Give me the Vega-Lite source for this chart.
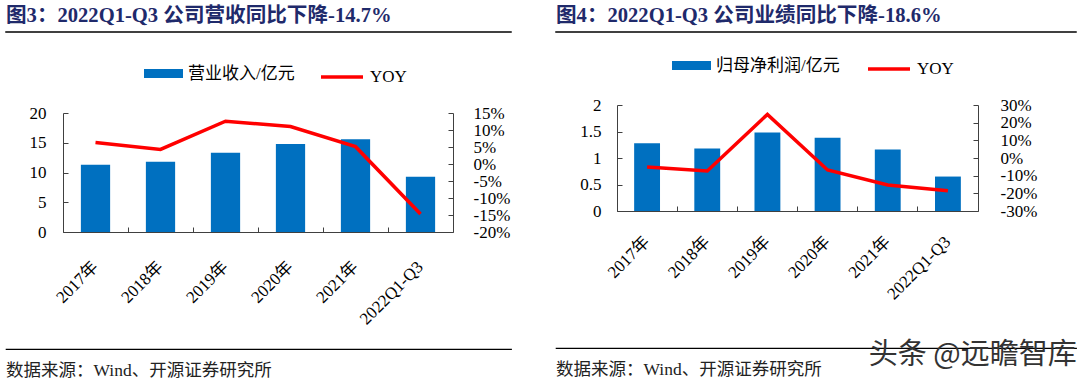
{
  "$schema": "https://vega.github.io/schema/vega-lite/v6.json",
  "background": "white",
  "padding": {"left": 5, "top": 5, "right": 2, "bottom": 0},
  "config": {
    "view": {"stroke": null},
    "axis": {
      "grid": false,
      "domainColor": "#404040",
      "tickColor": "#404040",
      "domainWidth": 1,
      "tickWidth": 1,
      "tickSize": -5,
      "labelColor": "#000000",
      "labelFont": "Liberation Serif, Noto Sans CJK SC",
      "labelFontSize": 17,
      "labelOverlap": false,
      "title": null
    },
    "legend": {
      "orient": "none",
      "direction": "horizontal",
      "title": null,
      "padding": 0,
      "labelFont": "Liberation Serif, Noto Sans CJK SC",
      "labelFontSize": 17,
      "labelColor": "#000000",
      "labelOffset": 5
    }
  },
  "spacing": 43,
  "resolve": {
    "scale": {"fill": "independent", "stroke": "independent"},
    "legend": {"fill": "independent", "stroke": "independent"}
  },
  "hconcat": [
    {
      "spacing": 16,
      "resolve": {
        "scale": {"fill": "independent", "stroke": "independent"},
        "legend": {"fill": "independent", "stroke": "independent"}
      },
      "vconcat": [
        {
          "width": 505,
          "height": 0.01,
          "view": {"stroke": "#000000", "strokeWidth": 1.5},
          "title": {"text": "图3：2022Q1-Q3 公司营收同比下降-14.7%", "anchor": "start", "fontSize": 20.6, "fontWeight": "bold", "color": "#1F2A6B", "font": "Liberation Serif, Noto Sans CJK SC", "offset": -1},
          "data": {"values": [{"t": ""}]},
          "mark": {"type": "text"},
          "encoding": {"text": {"field": "t"}}
        },
        {
          "spacing": 10,
          "resolve": {
            "scale": {"fill": "independent", "stroke": "independent"},
            "legend": {"fill": "independent", "stroke": "independent"}
          },
          "vconcat": [
            {
              "width": 447,
              "height": 119,
              "data": {"values": [
                {"period": "2017年", "value": 11.3, "yoy": 6.3},
                {"period": "2018年", "value": 11.8, "yoy": 4.3},
                {"period": "2019年", "value": 13.3, "yoy": 12.6},
                {"period": "2020年", "value": 14.8, "yoy": 11.0},
                {"period": "2021年", "value": 15.6, "yoy": 5.1},
                {"period": "2022Q1-Q3", "value": 9.3, "yoy": -14.7}
              ]},
              "encoding": {
                "x": {"field": "period", "type": "nominal", "sort": null,
                  "scale": {"paddingInner": 0, "paddingOuter": 0, "rangeMin": 57},
                  "axis": {"labelAngle": -45, "labelAlign": "right", "labelBaseline": "middle", "bandPosition": 0, "labelPadding": 37, "minExtent": 100}}
              },
              "layer": [
                {
                  "mark": {"type": "bar", "width": {"band": 0.45}},
                  "encoding": {
                    "y": {"field": "value", "type": "quantitative", "scale": {"domain": [0, 20], "nice": false},
                      "axis": {"orient": "left", "offset": -57, "values": [0, 5, 10, 15, 20], "labelPadding": 22}},
                    "fill": {"datum": "营业收入/亿元", "scale": {"range": ["#0070C0"]},
                      "legend": {"legendX": 138, "legendY": -59, "symbolType": "M-1,-0.23H1V0.23H-1Z", "symbolSize": 1521, "symbolStrokeWidth": 0}}
                  }
                },
                {
                  "mark": {"type": "line", "strokeWidth": 3.5},
                  "encoding": {
                    "y": {"field": "yoy", "type": "quantitative", "scale": {"domain": [-20, 15], "nice": false},
                      "axis": {"orient": "right", "values": [-20, -15, -10, -5, 0, 5, 10, 15], "labelExpr": "datum.value + '%'", "labelPadding": 25}},
                    "stroke": {"datum": "YOY", "scale": {"range": ["#FF0000"]},
                      "legend": {"legendX": 313, "legendY": -59, "symbolType": "stroke", "symbolSize": 1764, "symbolStrokeWidth": 3.5}}
                  }
                }
              ],
              "resolve": {"scale": {"y": "independent"}}
            },
            {
              "width": 505,
              "height": 0.01,
              "view": {"stroke": "#000000", "strokeWidth": 1.2},
              "title": {"text": "数据来源：Wind、开源证券研究所", "orient": "bottom", "anchor": "start", "fontSize": 17.5, "fontWeight": "normal", "color": "#222222", "font": "Liberation Serif, Noto Sans CJK SC", "offset": 8},
              "data": {"values": [{"t": ""}]},
              "mark": {"type": "text"},
              "encoding": {"text": {"field": "t"}}
            }
          ]
        }
      ]
    },
    {
      "spacing": 8,
      "resolve": {
        "scale": {"fill": "independent", "stroke": "independent"},
        "legend": {"fill": "independent", "stroke": "independent"}
      },
      "title": {"text": "头条 @远瞻智库", "orient": "bottom", "anchor": "end", "fontSize": 29, "fontWeight": "normal", "color": "#333333", "font": "Noto Sans CJK SC", "offset": -38},
      "vconcat": [
        {
          "width": 520,
          "height": 0.01,
          "view": {"stroke": "#000000", "strokeWidth": 1.5},
          "title": {"text": "图4：2022Q1-Q3 公司业绩同比下降-18.6%", "anchor": "start", "fontSize": 20.6, "fontWeight": "bold", "color": "#1F2A6B", "font": "Liberation Serif, Noto Sans CJK SC", "offset": -1},
          "data": {"values": [{"t": ""}]},
          "mark": {"type": "text"},
          "encoding": {"text": {"field": "t"}}
        },
        {
          "spacing": 30,
          "resolve": {
            "scale": {"fill": "independent", "stroke": "independent"},
            "legend": {"fill": "independent", "stroke": "independent"}
          },
          "vconcat": [
            {
              "width": 422,
              "height": 106,
              "data": {"values": [
                {"period": "2017年", "value": 1.28, "yoy": -5.1},
                {"period": "2018年", "value": 1.18, "yoy": -7.4},
                {"period": "2019年", "value": 1.48, "yoy": 24.7},
                {"period": "2020年", "value": 1.38, "yoy": -6.8},
                {"period": "2021年", "value": 1.16, "yoy": -15.3},
                {"period": "2022Q1-Q3", "value": 0.65, "yoy": -18.6}
              ]},
              "encoding": {
                "x": {"field": "period", "type": "nominal", "sort": null,
                  "scale": {"paddingInner": 0, "paddingOuter": 0, "rangeMin": 61},
                  "axis": {"labelAngle": -45, "labelAlign": "right", "labelBaseline": "middle", "bandPosition": 0, "labelPadding": 33, "minExtent": 100}}
              },
              "layer": [
                {
                  "mark": {"type": "bar", "width": {"band": 0.43}},
                  "encoding": {
                    "y": {"field": "value", "type": "quantitative", "scale": {"domain": [0, 2], "nice": false},
                      "axis": {"orient": "left", "offset": -61, "values": [0, 0.5, 1, 1.5, 2], "labelExpr": "datum.value + ''", "labelPadding": 21}},
                    "fill": {"datum": "归母净利润/亿元", "scale": {"range": ["#0070C0"]},
                      "legend": {"legendX": 116, "legendY": -59, "symbolType": "M-1,-0.23H1V0.23H-1Z", "symbolSize": 1521, "symbolStrokeWidth": 0}}
                  }
                },
                {
                  "mark": {"type": "line", "strokeWidth": 3.5},
                  "encoding": {
                    "y": {"field": "yoy", "type": "quantitative", "scale": {"domain": [-30, 30], "nice": false},
                      "axis": {"orient": "right", "values": [-30, -20, -10, 0, 10, 20, 30], "labelExpr": "datum.value + '%'", "labelPadding": 27}},
                    "stroke": {"datum": "YOY", "scale": {"range": ["#FF0000"]},
                      "legend": {"legendX": 310, "legendY": -59, "symbolType": "stroke", "symbolSize": 1764, "symbolStrokeWidth": 3.5}}
                  }
                }
              ],
              "resolve": {"scale": {"y": "independent"}}
            },
            {
              "width": 520,
              "height": 0.01,
              "view": {"stroke": "#000000", "strokeWidth": 1.2},
              "title": {"text": "数据来源：Wind、开源证券研究所", "orient": "bottom", "anchor": "start", "fontSize": 17.5, "fontWeight": "normal", "color": "#222222", "font": "Liberation Serif, Noto Sans CJK SC", "offset": 8},
              "data": {"values": [{"t": ""}]},
              "mark": {"type": "text"},
              "encoding": {"text": {"field": "t"}}
            }
          ]
        }
      ]
    }
  ]
}
